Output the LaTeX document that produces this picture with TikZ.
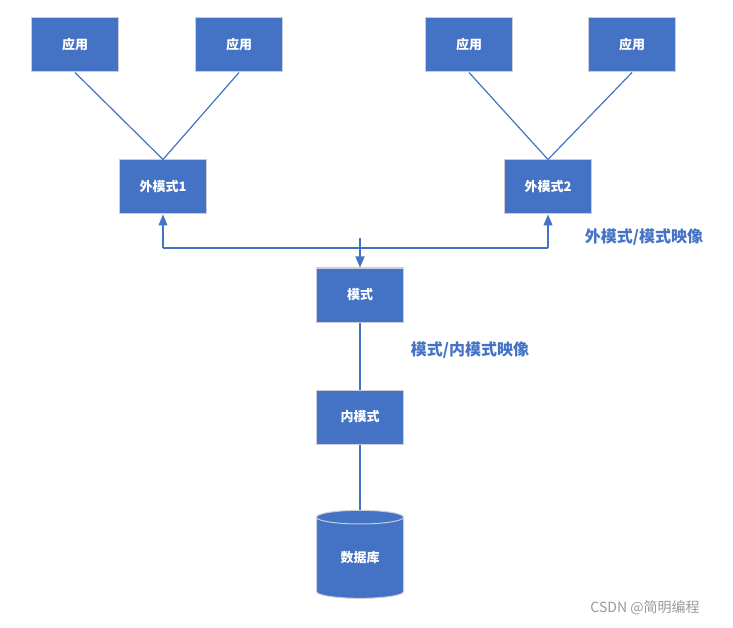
\documentclass[tikz,border=0pt]{standalone}
\usepackage{fontspec}
\setmainfont{Noto Sans CJK SC}
\usetikzlibrary{shapes.geometric,arrows.meta}
\definecolor{bl}{HTML}{4472C4}
\definecolor{bd}{HTML}{C8CDD6}
\tikzset{
 box/.style={draw=bd,line width=1pt,fill=bl,minimum width=87pt,minimum height=54pt,text=white,font=\fontsize{13}{15}\selectfont\bfseries,inner sep=0pt},
 ln/.style={draw=bl,line width=1.2pt},
 ar/.style={ln,-{Triangle[length=11pt,width=9pt]}},
 lab/.style={text=bl,font=\fontsize{16}{19}\selectfont\bfseries}
}
\begin{document}
\begin{tikzpicture}[x=1pt,y=-1pt]
\useasboundingbox (0,0) rectangle (733,628);
\node[box] (a1) at (75,45) {应用};
\node[box] (a2) at (239,45) {应用};
\node[box] (a3) at (469,45) {应用};
\node[box] (a4) at (632,45) {应用};
\node[box] (e1) at (163,187) {外模式1};
\node[box] (e2) at (548,187) {外模式2};
\node[box] (m) at (360,295) {模式};
\node[box] (i) at (360,417) {内模式};
\node[cylinder,shape border rotate=90,aspect=0.35,draw=bd,line width=1pt,fill=bl,minimum width=87pt,minimum height=88pt,text=white,font=\fontsize{13}{15}\selectfont\bfseries,inner sep=0pt] (db) at (360,558) {数据库};
\draw[ln] (a1.south) -- (e1.north);
\draw[ln] (a2.south) -- (e1.north);
\draw[ln] (a3.south) -- (e2.north);
\draw[ln] (a4.south) -- (e2.north);
\coordinate (j1) at (163,248);
\coordinate (j2) at (548,248);
\coordinate (t) at (360,238);
\draw[ar] (j1) -- (e1.south);
\draw[ar] (j2) -- (e2.south);
\draw[ln] (j1) -- (j2);
\draw[ar] (t) -- (m.north);
\draw[ln] (m.south) -- (i.north);
\draw[ln] (i.south) -- (db.top);
\node[lab] (l1) at (644,237) {外模式/模式映像};
\node[lab] (l2) at (470,350) {模式/内模式映像};
\node[text=gray!80,font=\fontsize{14}{16}\selectfont] (w) at (645,608) {CSDN @简明编程};
\end{tikzpicture}
\end{document}
